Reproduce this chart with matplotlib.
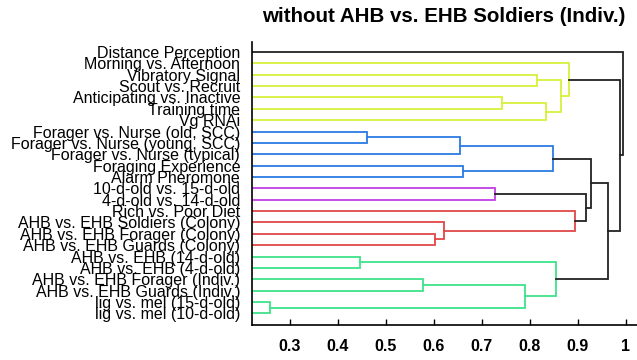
import matplotlib
matplotlib.use('Agg')
from matplotlib import pyplot as plt

plt.rcParams['font.family'] = ['Liberation Sans', 'DejaVu Sans']

# leaf labels, top to bottom
labels = [
    'Distance Perception', 'Morning vs. Afternoon', 'Vibratory Signal',
    'Scout vs. Recruit', 'Anticipating vs. Inactive', 'Training time',
    'Vg RNAi', 'Forager vs. Nurse (old, SCC)', 'Forager vs. Nurse (young, SCC)',
    'Forager vs. Nurse (typical)', 'Foraging Experience', 'Alarm Pheromone',
    '10-d-old vs. 15-d-old', '4-d-old vs. 14-d-old', 'Rich vs. Poor Diet',
    'AHB vs. EHB Soldiers (Colony)', 'AHB vs. EHB Forager (Colony)',
    'AHB vs. EHB Guards (Colony)', 'AHB vs. EHB (14-d-old)',
    'AHB vs. EHB (4-d-old)', 'AHB vs. EHB Forager (Indiv.)',
    'AHB vs. EHB Guards (Indiv.)', 'lig vs. mel (15-d-old)',
    'lig vs. mel (10-d-old)',
]

# linkage: new cluster ids start at len(labels)
merge_a = [22, 18, 7, 20, 16, 15, 26, 10, 12, 4, 27, 2, 33, 30, 25, 35, 1, 14, 32, 37, 43, 40, 0]
merge_b = [23, 19, 8, 21, 17, 28, 9, 11, 13, 5, 24, 3, 6, 31, 34, 36, 39, 29, 41, 42, 38, 44, 45]
merge_h = [0.258, 0.445, 0.461, 0.578, 0.603, 0.621, 0.654, 0.661, 0.727, 0.743,
           0.790, 0.816, 0.833, 0.848, 0.854, 0.866, 0.882, 0.894, 0.917, 0.927,
           0.963, 0.988, 0.995]

YEL, BLU, PUR, RED, GRN, BLK = '#d8f03c', '#2b7be2', '#c23fe2', '#e04646', '#3de38a', '#222222'
merge_c = [GRN, GRN, BLU, GRN, RED, RED, BLU, BLU, PUR, YEL,
           GRN, YEL, YEL, BLU, GRN, YEL, YEL, RED, BLK, BLK,
           BLK, BLK, BLK]

xticks = [0.3, 0.4, 0.5, 0.6, 0.7, 0.8, 0.9, 1.0]
xtick_labels = ['0.3', '0.4', '0.5', '0.6', '0.7', '0.8', '0.9', '1']

fig = plt.figure(figsize=(6.37, 3.6), dpi=100)
ax = fig.add_axes([0.3956, 0.0972, 0.6044, 0.7861])

n = len(labels)
ypos = {i: float(i) for i in range(n)}
xpos = {i: 0.0 for i in range(n)}
for k, (a, b, h, c) in enumerate(zip(merge_a, merge_b, merge_h, merge_c)):
    ya, yb = ypos[a], ypos[b]
    ax.plot([xpos[a], h, h, xpos[b]], [ya, ya, yb, yb], color=c, lw=1.3,
            solid_joinstyle='miter')
    ypos[n + k] = (ya + yb) / 2
    xpos[n + k] = h

ax.set_xlim(0.2208, 1.0235)
ax.set_ylim(24.03, -0.88)

ax.set_yticks(range(n))
ax.set_yticklabels(labels, fontsize=11.5)
ax.tick_params(axis='y', length=0, pad=8.5)

ax.set_xticks(xticks)
ax.set_xticklabels(xtick_labels, fontsize=11.5, fontweight='bold')
ax.tick_params(axis='x', direction='in', length=4, width=1, pad=10)

for s in ['top', 'right']:
    ax.spines[s].set_visible(False)
for s in ['left', 'bottom']:
    ax.spines[s].set_linewidth(1.2)

fig.text(0.697, 0.955, 'without AHB vs. EHB Soldiers (Indiv.)', fontsize=14.8,
         fontweight='bold', ha='center', va='center')

fig.savefig('out.png', dpi=100)
